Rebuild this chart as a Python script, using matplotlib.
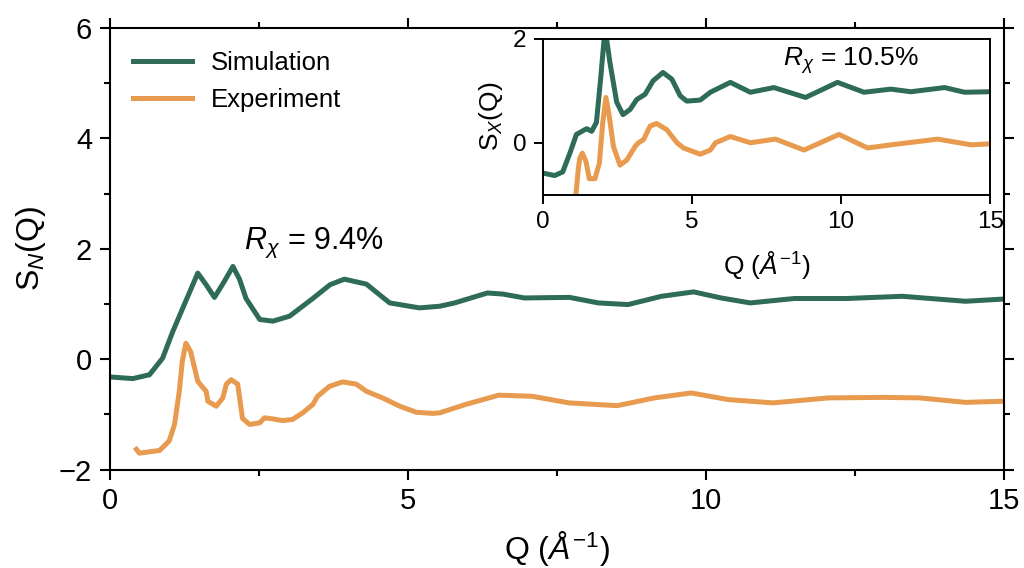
import numpy as np
import matplotlib
matplotlib.use("Agg")
import matplotlib.pyplot as plt
from matplotlib.ticker import MultipleLocator

plt.rcParams['font.family'] = ['Liberation Sans', 'DejaVu Sans']
plt.rcParams['mathtext.fontset'] = 'custom'
plt.rcParams['mathtext.rm'] = 'Liberation Sans'
plt.rcParams['mathtext.it'] = 'Liberation Sans:italic'

green = "#2e6b58"
orange = "#e89a4e"

# S_N(Q) main panel
q_sim = [0, 0.39, 0.67, 0.89, 1.06, 1.23, 1.48, 1.62, 1.76, 1.92, 2.07, 2.18, 2.29,
         2.52, 2.74, 3.02, 3.41, 3.7, 3.94, 4.31, 4.7, 5.2, 5.54, 5.79, 6.34, 6.6,
         6.96, 7.72, 8.2, 8.7, 9.26, 9.8, 10.26, 10.75, 11.49, 12.37, 13.3, 14.36, 15]
s_sim = [-0.32, -0.35, -0.28, 0.02, 0.5, 0.93, 1.56, 1.35, 1.12, 1.4, 1.68, 1.45, 1.1,
         0.72, 0.69, 0.78, 1.1, 1.35, 1.45, 1.36, 1.02, 0.93, 0.96, 1.02, 1.2, 1.18,
         1.11, 1.12, 1.02, 0.99, 1.14, 1.22, 1.11, 1.02, 1.1, 1.1, 1.14, 1.05, 1.09]

q_exp = [0.45, 0.5, 0.84, 1.0, 1.09, 1.17, 1.22, 1.28, 1.36, 1.48, 1.62, 1.65, 1.79,
         1.9, 1.96, 2.04, 2.15, 2.23, 2.35, 2.52, 2.6, 2.74, 2.9, 3.07, 3.24, 3.41,
         3.49, 3.69, 3.91, 4.14, 4.31, 4.58, 4.87, 5.15, 5.42, 5.54, 5.97, 6.53, 7.09,
         7.71, 8.52, 9.14, 9.76, 10.38, 11.13, 12.06, 12.99, 13.6, 14.36, 15]
s_exp = [-1.63, -1.7, -1.65, -1.48, -1.18, -0.58, -0.04, 0.29, 0.14, -0.4, -0.58, -0.76, -0.85,
         -0.7, -0.45, -0.37, -0.45, -1.07, -1.18, -1.15, -1.06, -1.08, -1.11, -1.09, -0.97, -0.82,
         -0.67, -0.49, -0.41, -0.45, -0.58, -0.7, -0.85, -0.96, -0.98, -0.97, -0.82, -0.65, -0.67,
         -0.79, -0.84, -0.7, -0.61, -0.73, -0.79, -0.7, -0.69, -0.7, -0.78, -0.76]

# S_X(Q) inset
qx_sim = [0.07, 0.4, 0.67, 0.91, 1.13, 1.47, 1.64, 1.8, 1.94, 2.09, 2.25, 2.48, 2.69,
          2.93, 3.15, 3.43, 3.7, 4.03, 4.33, 4.61, 4.83, 5.28, 5.62, 6.29, 6.96, 7.75,
          8.81, 9.88, 10.77, 11.67, 12.34, 13.47, 14.14, 15]
sx_sim = [-0.59, -0.63, -0.56, -0.2, 0.16, 0.27, 0.22, 0.39, 1.22, 2.2, 1.55, 0.78, 0.54,
          0.64, 0.83, 0.93, 1.19, 1.35, 1.22, 0.9, 0.8, 0.82, 0.97, 1.16, 0.97, 1.06,
          0.87, 1.16, 0.97, 1.03, 0.98, 1.06, 0.97, 0.98]

qx_exp = [1.08, 1.19, 1.24, 1.33, 1.45, 1.56, 1.75, 1.9, 2.01, 2.12, 2.23, 2.37, 2.59,
          2.82, 3.1, 3.21, 3.38, 3.6, 3.82, 4.16, 4.5, 4.72, 5.28, 5.62, 5.79, 6.29,
          6.96, 7.8, 8.76, 9.93, 10.89, 11.67, 13.24, 14.36, 15]
sx_exp = [-1.2, -0.52, -0.3, -0.2, -0.36, -0.69, -0.69, -0.39, 0.38, 0.87, 0.51, -0.07, -0.43,
          -0.33, -0.07, 0.0, 0.06, 0.32, 0.37, 0.25, 0.0, -0.1, -0.22, -0.14, 0.0, 0.12,
          0.0, 0.07, -0.14, 0.16, -0.1, -0.04, 0.07, -0.04, -0.02]

fig = plt.figure(figsize=(10.24, 5.68), dpi=100)
ax = fig.add_axes([0.107, 0.173, 0.873, 0.778])
ax.plot(q_sim, s_sim, color=green, lw=3.6, label="Simulation")
ax.plot(q_exp, s_exp, color=orange, lw=3.6, label="Experiment")
ax.set_xlim(0, 15)
ax.set_ylim(-2, 6)
ax.xaxis.set_major_locator(MultipleLocator(5))
ax.xaxis.set_minor_locator(MultipleLocator(2.5))
ax.yaxis.set_major_locator(MultipleLocator(2))
ax.yaxis.set_minor_locator(MultipleLocator(1))
ax.tick_params(which="both", direction="out", top=True, right=True, width=1.5, labelsize=21)
ax.tick_params(which="major", length=7.5, pad=5)
ax.tick_params(which="minor", length=4)
for sp in ax.spines.values():
    sp.set_linewidth(1.5)
ax.set_xlabel(r"Q ($Å^{-1}$)", fontsize=23, labelpad=10)
ax.set_ylabel(r"S$_N$(Q)", fontsize=23, labelpad=8)
ax.text(2.25, 2.1, r"$R_\chi$ = 9.4%", fontsize=22, ha="left", va="center")
ax.legend(loc="upper left", frameon=False, fontsize=18.5, handlelength=2.3,
          handletextpad=0.75, borderaxespad=0.5, labelspacing=0.52)

# inset
ins = fig.add_axes([0.530, 0.657, 0.437, 0.275])
ins.plot(qx_sim, sx_sim, color=green, lw=3.6)
ins.plot(qx_exp, sx_exp, color=orange, lw=3.6)
ins.set_xlim(0, 15)
ins.set_ylim(-1, 2)
ins.xaxis.set_major_locator(MultipleLocator(5))
ins.yaxis.set_major_locator(MultipleLocator(2))
ins.tick_params(direction="out", width=1.4, length=6.5, labelsize=17.5, pad=5)
for sp in ins.spines.values():
    sp.set_linewidth(1.4)
ins.set_xlabel(r"Q ($Å^{-1}$)", fontsize=19, labelpad=12)
ins.set_ylabel(r"S$_X$(Q)", fontsize=19, labelpad=6)
ins.text(0.536, 0.858, r"$R_\chi$ = 10.5%", fontsize=19, ha="left", va="center",
         transform=ins.transAxes)

fig.savefig("out.png", dpi=100)
